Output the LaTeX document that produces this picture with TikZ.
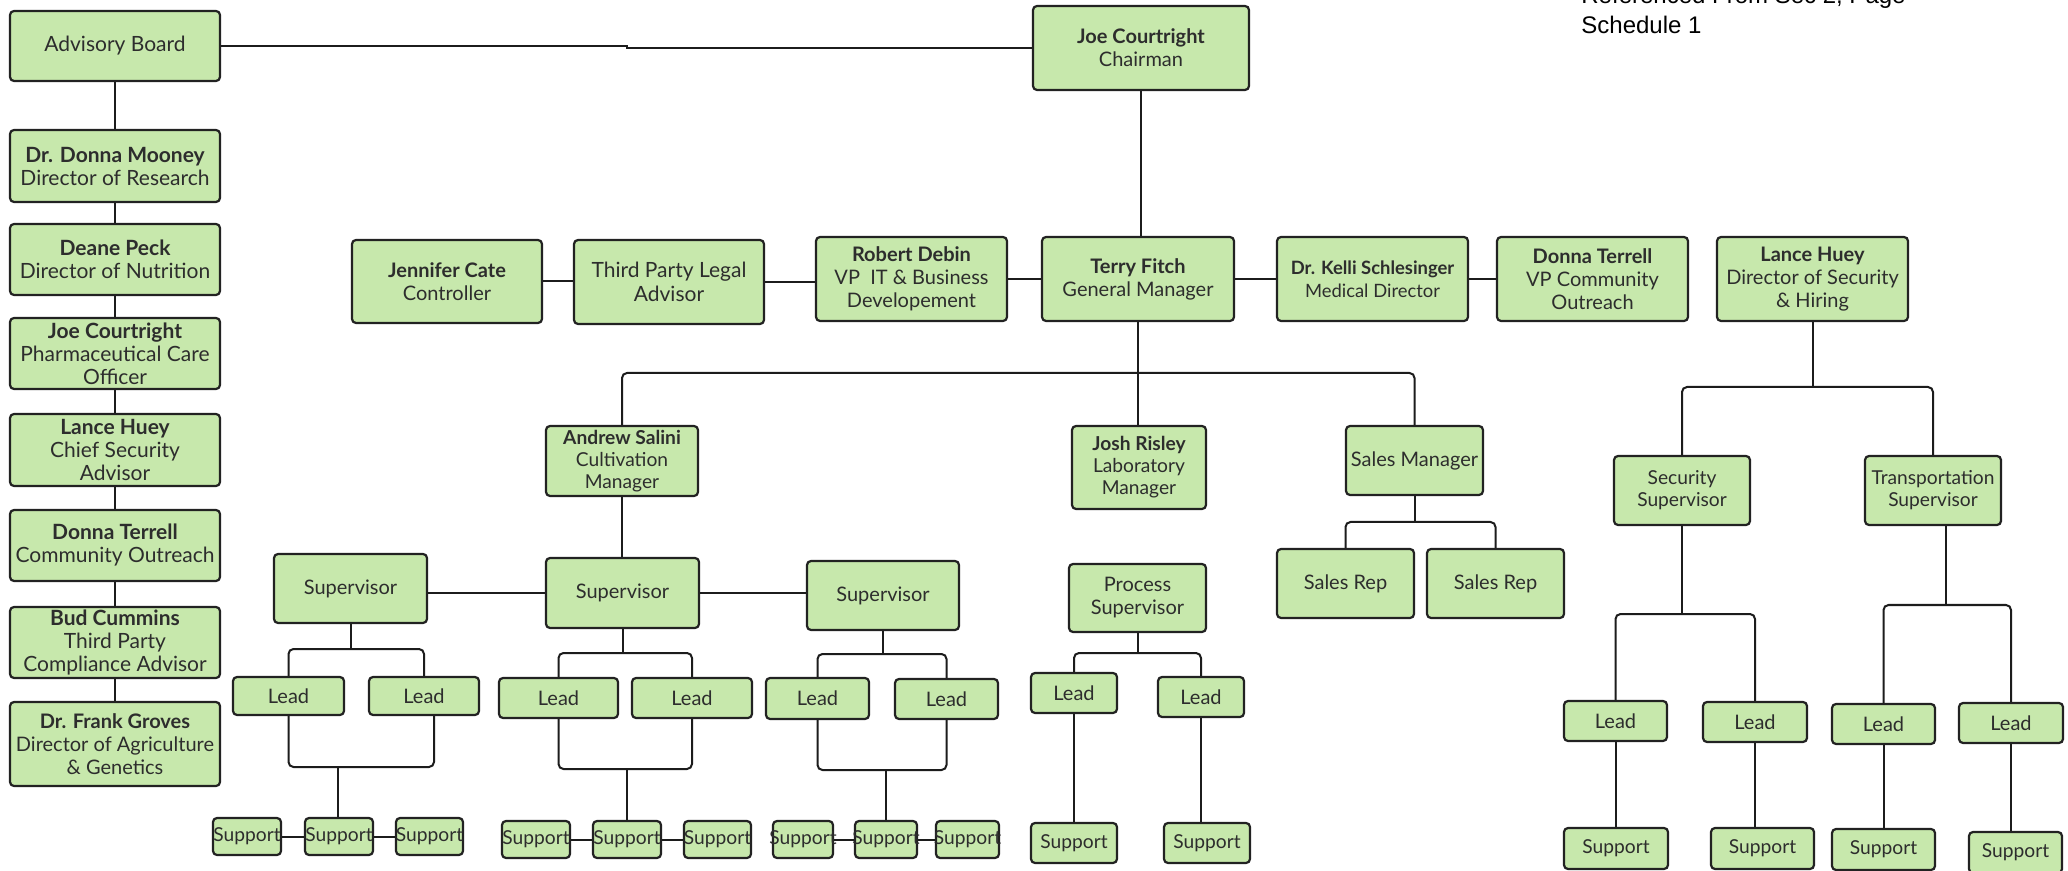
\documentclass[tikz,border=0pt]{standalone}
\usepackage{fontspec}
\setmainfont{Lato}
\newfontfamily\arialf{Liberation Sans}
\definecolor{boxfill}{RGB}{199,232,172}
\definecolor{boxline}{RGB}{34,34,34}
\definecolor{wirec}{RGB}{28,28,28}
\definecolor{txt}{RGB}{45,45,45}
\newcommand\bx[7][]{\node[box,#1,minimum width={(#5-#3)*0.5pt},minimum height={(#6-#4)*0.5pt}] (#2) at ({(#3+#5)/2},{(#4+#6)/2}) {#7};}
\newcommand\zw[1]{\makebox[0pt]{#1}}
\begin{document}
\begin{tikzpicture}[x=0.5pt,y=-0.5pt,
  box/.style={draw=boxline, fill=boxfill, rounded corners=2pt, line width=1.1pt, inner sep=0pt, align=center, text=txt, font=\fontsize{10}{11.5}\selectfont},
  leftcol/.style={font=\fontsize{10.5}{11.5}\selectfont},
  three/.style={font=\fontsize{9.6}{11}\selectfont},
  small/.style={font=\fontsize{9.6}{11}\selectfont},
  wire/.style={draw=wirec, line width=1pt, rounded corners=2.5pt},
  title/.style={inner sep=0pt, anchor=base west, font=\arialf\fontsize{12}{14}\selectfont, text=black}]
\useasboundingbox[fill=white] (0,0) rectangle (2068,871);

% title (top line cut off by the page edge, as in the reference)
\node[title] (t1) at (1581,4) {Referenced From Sec 2, Page};
\node[title] (t2) at (1581,34) {Schedule 1};

% left column
\bx[font=\fontsize{10.5}{12}\selectfont]{adv}{10}{11}{220}{81}{Advisory Board}
\bx[leftcol]{mooney}{10}{130}{220}{202}{\textbf{Dr. Donna Mooney}\\Director of Research}
\bx[leftcol]{peck}{10}{224}{220}{295}{\textbf{Deane Peck}\\Director of Nutrition}
\bx[leftcol]{jcpco}{10}{318}{220}{389}{\textbf{Joe Courtright}\\Pharmaceutical Care\\Officer}
\bx[leftcol]{lhcsa}{10}{414}{220}{486}{\textbf{Lance Huey}\\Chief Security\\Advisor}
\bx[leftcol]{dtco}{10}{510}{220}{581}{\textbf{Donna Terrell}\\Community Outreach}
\bx[leftcol]{bud}{10}{607}{220}{678}{\textbf{Bud Cummins}\\Third Party\\Compliance Advisor}
\bx{groves}{10}{702}{220}{786}{\textbf{Dr. Frank Groves}\\Director of Agriculture\\\& Genetics}

% top row
\bx{chair}{1033}{6}{1249}{90}{\textbf{Joe Courtright}\\Chairman}
\bx{jen}{352}{240}{542}{323}{\textbf{Jennifer Cate}\\Controller}
\bx[font=\fontsize{10.5}{12}\selectfont]{legal}{574}{240}{764}{324}{Third Party Legal\\Advisor}
\bx{debin}{816}{237}{1007}{321}{\textbf{Robert Debin}\\VP\ \ IT \& Business\\Developement}
\bx{terry}{1042}{237}{1234}{321}{\textbf{Terry Fitch}\\General Manager}
\bx[font=\fontsize{9.2}{11.5}\selectfont]{kelli}{1277}{237}{1468}{321}{\textbf{Dr. Kelli Schlesinger}\\Medical Director}
\bx{dterrell}{1497}{237}{1688}{321}{\textbf{Donna Terrell}\\VP Community\\Outreach}
\bx{lhuey}{1717}{237}{1908}{321}{\textbf{Lance Huey}\\Director of Security\\\& Hiring}

% managers
\bx[three]{salini}{546}{426}{698}{496}{\textbf{Andrew Salini}\\Cultivation\\Manager}
\bx[three]{josh}{1072}{426}{1206}{509}{\textbf{Josh Risley}\\Laboratory\\Manager}
\bx{sm}{1346}{426}{1483}{495}{Sales Manager}
\bx{rep1}{1277}{549}{1414}{618}{Sales Rep}
\bx{rep2}{1427}{549}{1564}{618}{Sales Rep}

% supervisors
\bx{supL}{274}{554}{427}{623}{Supervisor}
\bx{supC}{546}{558}{699}{628}{Supervisor}
\bx{supR}{807}{561}{959}{630}{Supervisor}
\bx{psup}{1069}{564}{1206}{632}{Process\\Supervisor}
\bx[small]{secsup}{1614}{456}{1750}{525}{Security\\Supervisor}
\bx[small]{trsup}{1865}{456}{2001}{525}{Transportation\\Supervisor}

% leads
\bx{lL1}{233}{677}{344}{715}{Lead}
\bx{lL2}{369}{677}{479}{715}{Lead}
\bx{lC1}{499}{678}{618}{718}{Lead}
\bx{lC2}{632}{678}{752}{718}{Lead}
\bx{lR1}{766}{678}{869}{719}{Lead}
\bx{lR2}{895}{679}{998}{719}{Lead}
\bx{lP1}{1031}{673}{1117}{713}{Lead}
\bx{lP2}{1158}{677}{1244}{717}{Lead}
\bx{lS1}{1564}{701}{1667}{741}{Lead}
\bx{lS2}{1703}{702}{1807}{742}{Lead}
\bx{lT1}{1832}{704}{1935}{744}{Lead}
\bx{lT2}{1959}{703}{2063}{743}{Lead}

% supports
\bx[small]{s1}{213}{818}{281}{855}{\zw{Support}}
\bx[small]{s2}{305}{818}{373}{855}{\zw{Support}}
\bx[small]{s3}{396}{818}{463}{855}{\zw{Support}}
\bx[small]{s4}{502}{821}{570}{858}{\zw{Support}}
\bx[small]{s5}{593}{821}{661}{858}{\zw{Support}}
\bx[small]{s6}{684}{821}{751}{858}{\zw{Support}}
\bx[small]{s7}{773}{821}{833}{858}{\zw{Support}}
\bx[small]{s8}{855}{821}{917}{858}{\zw{Support}}
\bx[small]{s9}{936}{821}{999}{858}{\zw{Support}}
\bx[small]{sp1}{1031}{823}{1117}{863}{Support}
\bx[small]{sp2}{1164}{823}{1250}{863}{Support}
\bx[small]{ss1}{1564}{828}{1668}{869}{Support}
\bx[small]{ss2}{1711}{828}{1814}{869}{Support}
\bx[small]{ts1}{1832}{829}{1935}{870}{Support}
\bx[small]{ts2}{1969}{832}{2062}{873}{Support}

% junction coordinates
\coordinate (k1) at (627,46);
\coordinate (jGM) at (1138,373);
\coordinate (jL) at (350,649);
\coordinate (jC) at (623,653);
\coordinate (jR) at (883,654);
\coordinate (jP) at (1138,653);
\coordinate (jSM) at (1413,522);
\coordinate (jLH) at (1811,387);
\coordinate (jSec) at (1682,614);
\coordinate (jT) at (1946,605);
\coordinate (kL) at (338,767);
\coordinate (kC) at (627,769);
\coordinate (kR) at (886,770);

% connectors
\draw[wire, rounded corners=0pt] (adv.east) -- (adv.east -| k1) -- (k1 |- chair.west) -- (chair.west);
\draw[wire] (adv.south) -- (mooney.north);
\draw[wire] (mooney.south) -- (peck.north);
\draw[wire] (peck.south) -- (jcpco.north);
\draw[wire] (jcpco.south) -- (lhcsa.north);
\draw[wire] (lhcsa.south) -- (dtco.north);
\draw[wire] (dtco.south) -- (bud.north);
\draw[wire] (bud.south) -- (groves.north);

\draw[wire] (chair.south) -- (chair.south |- terry.north);
\draw[wire] (jen.east) -- (jen.east -| legal.west);
\draw[wire] (legal.east) -- (legal.east -| debin.west);
\draw[wire] (debin.east) -- (debin.east -| terry.west);
\draw[wire] (terry.east) -- (terry.east -| kelli.west);
\draw[wire] (kelli.east) -- (kelli.east -| dterrell.west);

\draw[wire] (terry.south) -- (terry.south |- josh.north);
\draw[wire] (salini.north) |- (jGM) -| (sm.north);
\draw[wire] (salini.south) -- (salini.south |- supC.north);
\draw[wire] (supC.west) -- (supC.west -| supL.east);
\draw[wire] (supC.east) -- (supC.east -| supR.west);

\draw[wire] (sm.south) -- (sm.south |- jSM);
\draw[wire] (rep1.north) |- (jSM) -| (rep2.north);

% cultivation leads and supports
\draw[wire] (supL.south) -- (supL.south |- jL);
\draw[wire] (lL1.north) |- (jL) -| (lL2.north);
\draw[wire] (lL1.south) |- (kL) -| ([xshift=5pt]lL2.south);
\draw[wire] (kL) -- (kL |- s2.north);
\draw[wire] (s1.east) -- (s2.west);
\draw[wire] (s2.east) -- (s3.west);

\draw[wire] (supC.south) -- (supC.south |- jC);
\draw[wire] (lC1.north) |- (jC) -| (lC2.north);
\draw[wire] (lC1.south) |- (kC) -| (lC2.south);
\draw[wire] (kC) -- (kC |- s5.north);
\draw[wire] (s4.east) -- (s5.west);
\draw[wire] (s5.east) -- (s6.west);

\draw[wire] (supR.south) -- (supR.south |- jR);
\draw[wire] (lR1.north) |- (jR) -| (lR2.north);
\draw[wire] (lR1.south) |- (kR) -| (lR2.south);
\draw[wire] (kR) -- (kR |- s8.north);
\draw[wire] (s7.east) -- (s8.west);
\draw[wire] (s8.east) -- (s9.west);

% process
\draw[wire] (psup.south) -- (psup.south |- jP);
\draw[wire] (lP1.north) |- (jP) -| (lP2.north);
\draw[wire] (lP1.south) -- (sp1.north);
\draw[wire] (lP2.south) -- (lP2.south |- sp2.north);

% security & hiring
\draw[wire] (lhuey.south) -- (lhuey.south |- jLH);
\draw[wire] (secsup.north) |- (jLH) -| (trsup.north);
\draw[wire] (secsup.south) -- (secsup.south |- jSec);
\draw[wire] (lS1.north) |- (jSec) -| (lS2.north);
\draw[wire] (lS1.south) -- (lS1.south |- ss1.north);
\draw[wire] (lS2.south) -- (lS2.south |- ss2.north);
\draw[wire] ([xshift=6.5pt]trsup.south) -- ([xshift=6.5pt]trsup.south |- jT);
\draw[wire] (lT1.north) |- (jT) -| (lT2.north);
\draw[wire] (lT1.south) -- (lT1.south |- ts1.north);
\draw[wire] (lT2.south) -- (lT2.south |- ts2.north);
\end{tikzpicture}
\end{document}
